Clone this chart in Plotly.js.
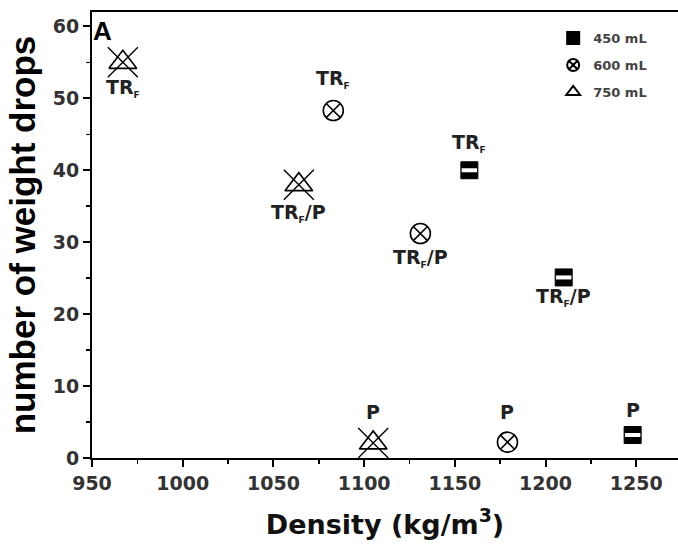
<!DOCTYPE html>
<html>
<head>
<meta charset="utf-8">
<script src="https://cdn.plot.ly/plotly-3.0.1.min.js"></script>
<style>html,body{margin:0;padding:0;background:#fff;}#chart{width:678px;height:554px;}</style>
</head>
<body>
<div id="chart"></div>
<script>
// Data
const density450 = [1158, 1210, 1248];
const drops450   = [40, 25.1, 3.2];
const labels450  = ['TR_F', 'TR_F/P', 'P'];
const place450   = ['above', 'below', 'above'];

const density600 = [1083, 1131, 1179];
const drops600   = [48.3, 31.2, 2.2];
const labels600  = ['TR_F', 'TR_F/P', 'P'];
const place600   = ['above', 'below', 'above'];

const density750 = [967, 1064, 1105];
const drops750   = [55, 38, 2.1];
const labels750  = ['TR_F', 'TR_F/P', 'P'];
const place750   = ['below', 'below', 'above'];

const seriesNames = ['450 mL', '600 mL', '750 mL'];

const tickFont = {family: 'DejaVu Sans', size: 19, color: '#333', weight: 'bold'};

function fmt(lbl) {
  return lbl.replace('_F', '<sub><span style="font-size:9px;color:#222">F</span></sub>');
}

const traces = [
  {x: density450, y: drops450, type: 'scatter', mode: 'markers', name: seriesNames[0], legendgroup: 'a',
   marker: {symbol: 'square', size: 17, color: '#000', line: {color: '#000', width: 1}}},
  {x: density450, y: drops450, type: 'scatter', mode: 'markers', legendgroup: 'a', showlegend: false, hoverinfo: 'skip',
   marker: {symbol: 'line-ew', size: 11, color: '#fff', line: {color: '#fff', width: 4}}},
  {x: density600, y: drops600, type: 'scatter', mode: 'markers', name: seriesNames[1], legendgroup: 'b',
   marker: {symbol: 'circle-x-open', size: 20, color: '#000', line: {color: '#000', width: 1.6}}},
  {x: density750, y: drops750, type: 'scatter', mode: 'markers', name: seriesNames[2], legendgroup: 'c',
   marker: {symbol: 'triangle-up-open', size: 24, color: '#000', line: {color: '#000', width: 1.6}}},
  {x: density750, y: drops750, type: 'scatter', mode: 'markers', legendgroup: 'c', showlegend: false, hoverinfo: 'skip',
   marker: {symbol: 'x-thin-open', size: 30, color: '#000', line: {color: '#000', width: 1.4}}}
];

const annotations = [];
function addLabels(xs, ys, labels, places, upShift, downShift) {
  for (let i = 0; i < xs.length; i++) {
    const above = places[i] === 'above';
    annotations.push({
      x: xs[i], y: ys[i], xref: 'x', yref: 'y', showarrow: false,
      text: fmt(labels[i]), xanchor: 'center', yanchor: 'middle',
      yshift: above ? upShift[i] : -downShift[i],
      font: {family: 'DejaVu Sans', size: 19, color: '#222', weight: 'bold'}
    });
  }
}
addLabels(density450, drops450, labels450, place450, [27, 0, 25], [0, 20, 0]);
addLabels(density600, drops600, labels600, place600, [32, 0, 30], [0, 24, 0]);
addLabels(density750, drops750, labels750, place750, [0, 0, 31], [26, 28, 0]);

annotations.push({
  x: 0, y: 1, xref: 'paper', yref: 'paper', xanchor: 'left', yanchor: 'top',
  xshift: -1, yshift: -2, showarrow: false, text: 'A',
  font: {family: 'Liberation Sans', size: 26, color: '#000', weight: 'bold'}
});

const layout = {
  width: 678, height: 554,
  margin: {l: 92, r: 0, t: 12, b: 96},
  paper_bgcolor: '#fff', plot_bgcolor: '#fff',
  showlegend: true,
  legend: {
    x: 0.787, y: 0.975, xanchor: 'left', yanchor: 'top',
    font: {family: 'DejaVu Sans', size: 13, color: '#444', weight: 'bold'},
    bgcolor: 'rgba(0,0,0,0)', tracegroupgap: 7, traceorder: 'grouped',
    itemsizing: 'constant', itemwidth: 30
  },
  xaxis: {
    range: [950, 1273], dtick: 50, tick0: 950,
    showgrid: false, zeroline: false,
    showline: true, linecolor: '#000', linewidth: 2, mirror: true,
    ticks: 'outside', ticklen: 7, tickwidth: 2, tickcolor: '#000',
    minor: {dtick: 25, ticks: 'outside', ticklen: 4, tickwidth: 1.5, tickcolor: '#000', showgrid: false},
    tickfont: tickFont,
    title: {text: 'Density (kg/m<sup>3</sup>)', standoff: 22,
            font: {family: 'DejaVu Sans', size: 27, color: '#111', weight: 'bold'}}
  },
  yaxis: {
    range: [0, 62], dtick: 10, tick0: 0,
    showgrid: false, zeroline: false,
    showline: true, linecolor: '#000', linewidth: 2, mirror: false,
    ticks: 'outside', ticklen: 7, tickwidth: 2, tickcolor: '#000',
    minor: {dtick: 5, ticks: 'outside', ticklen: 4, tickwidth: 1.5, tickcolor: '#000', showgrid: false},
    tickfont: tickFont,
    title: {text: 'number of weight drops', standoff: 6,
            font: {family: 'Liberation Sans', size: 35, color: '#000', weight: 'bold'}}
  },
  annotations: annotations
};

Plotly.newPlot('chart', traces, layout, {displayModeBar: false, staticPlot: true});
</script>
</body>
</html>
